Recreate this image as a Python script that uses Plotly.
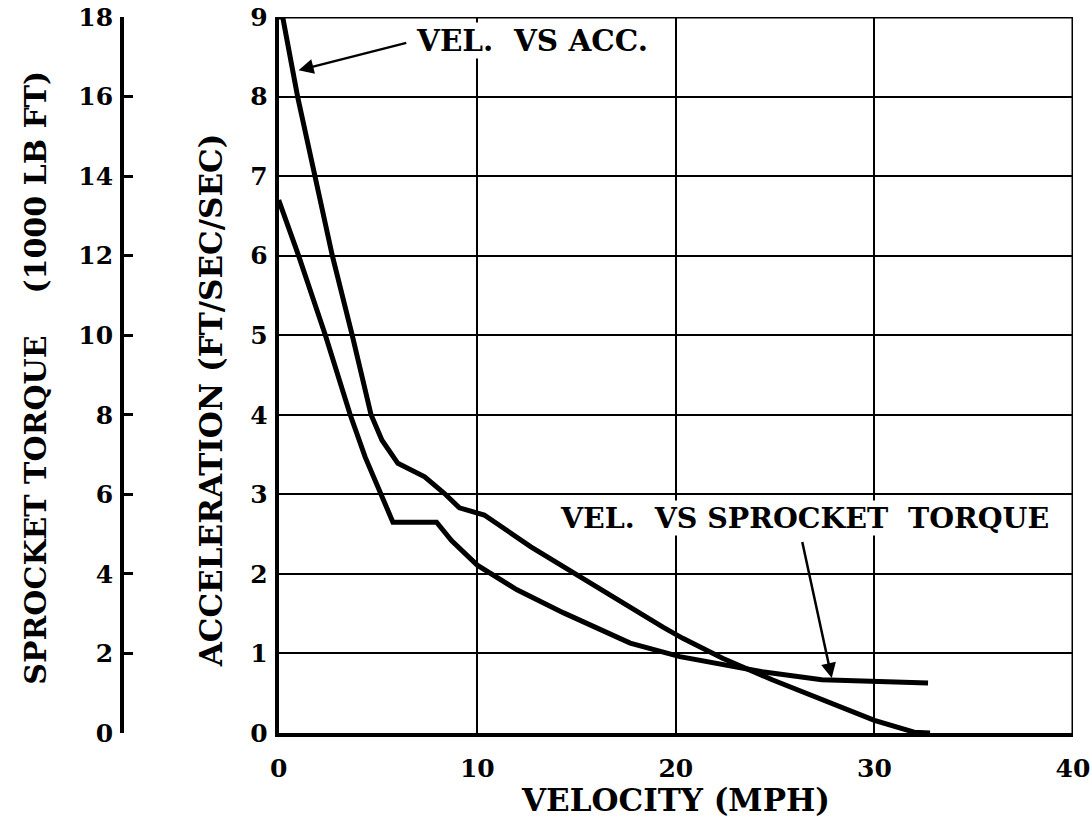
import plotly.graph_objects as go

# VEL. VS ACC. (acceleration, ft/sec/sec) vs velocity (mph)
acc_vel = [0.0, 0.2, 0.95, 1.85, 2.7, 3.7, 4.65, 5.2, 6.0, 7.35, 8.35, 9.1, 10.35,
           12.7, 14.85, 17.7, 19.35, 20.35, 22.35, 24.85, 27.7, 30.0, 32.0, 32.8]
acc_val = [9.0, 9.0, 8.0, 7.0, 6.0, 5.0, 4.0, 3.68, 3.39, 3.22, 3.01, 2.83, 2.74,
           2.34, 2.01, 1.58, 1.33, 1.19, 0.94, 0.67, 0.38, 0.16, 0.01, 0.0]

# VEL. VS SPROCKET TORQUE (1000 lb ft) vs velocity (mph)
trq_vel = [0.0, 1.0, 2.35, 3.6, 4.35, 5.2, 5.75, 7.95, 8.7, 10.0, 12.0,
           14.35, 17.7, 20.2, 21.85, 24.35, 27.35, 32.7]
trq_val = [13.4, 12.0, 10.0, 8.0, 6.94, 5.94, 5.3, 5.3, 4.84, 4.22, 3.6,
           3.02, 2.26, 1.92, 1.76, 1.54, 1.34, 1.26]

x_ticks = [0, 10, 20, 30, 40]
acc_ticks = list(range(0, 10))
trq_ticks = list(range(0, 19, 2))

FONT = "DejaVu Serif"
W, H = 1092, 823
L, R, T, B = 0, 19, 17, 90
PW = W - L - R
PH = H - T - B


def px(xp):
    return (xp - L) / PW


def py(yp):
    return (H - B - yp) / PH


tick_font = dict(family=FONT, size=25, weight="bold", color="black")

fig = go.Figure()
fig.add_trace(go.Scatter(x=acc_vel, y=acc_val, mode="lines",
                         line=dict(color="black", width=5), showlegend=False))
fig.add_trace(go.Scatter(x=trq_vel, y=trq_val, mode="lines", yaxis="y2",
                         line=dict(color="black", width=5), showlegend=False))

fig.update_layout(
    width=W, height=H,
    margin=dict(l=L, r=R, t=T, b=B),
    paper_bgcolor="white", plot_bgcolor="white",
    font=dict(family=FONT, color="black"),
    xaxis=dict(domain=[px(272), 1], range=[0, 40], tickvals=x_ticks,
               showgrid=True, gridcolor="black", gridwidth=2,
               showline=True, linecolor="black", linewidth=4, mirror=False,
               zeroline=False, ticks="", ticklabelstandoff=10,
               tickfont=tick_font),
    yaxis=dict(range=[0, 9], tickvals=acc_ticks,
               showgrid=True, gridcolor="black", gridwidth=2,
               showline=True, linecolor="black", linewidth=4,
               zeroline=False, ticks="", ticklabelstandoff=2,
               tickfont=tick_font),
    yaxis2=dict(range=[0, 18], tickvals=trq_ticks, overlaying="y", anchor="free",
                side="left", position=px(114), showgrid=False, zeroline=False,
                showline=True, linecolor="black", linewidth=4,
                ticks="inside", ticklen=9, tickwidth=3, tickcolor="black",
                ticklabelstandoff=2, tickfont=tick_font),
)

# plot frame top/right (thinner lines)
fig.add_shape(type="line", xref="x", yref="y", x0=0, x1=40, y0=9, y1=9,
              line=dict(color="black", width=3))
fig.add_shape(type="line", xref="x", yref="y", x0=40, x1=40, y0=0, y1=9,
              line=dict(color="black", width=3))

fig.add_annotation(x=6.85, y=8.71, xref="x", yref="y", text="VEL.  VS ACC.",
                   showarrow=False, xanchor="left", yanchor="middle",
                   bgcolor="white", borderpad=0,
                   font=dict(family=FONT, size=29.5, color="black", weight="bold"))
fig.add_annotation(x=14.1, y=2.70, xref="x", yref="y",
                   text="VEL.  VS SPROCKET  TORQUE",
                   showarrow=False, xanchor="left", yanchor="middle",
                   bgcolor="white", borderpad=0,
                   font=dict(family=FONT, size=28.5, color="black", weight="bold"))
# arrows
fig.add_annotation(x=1.0, y=8.33, ax=6.5, ay=8.68, xref="x", yref="y",
                   axref="x", ayref="y", text="", showarrow=True,
                   arrowhead=2, arrowsize=1.2, arrowwidth=2.5, arrowcolor="black")
fig.add_annotation(x=27.85, y=0.69, ax=26.35, ay=2.42, xref="x", yref="y",
                   axref="x", ayref="y", text="", showarrow=True,
                   arrowhead=2, arrowsize=1.2, arrowwidth=2.5, arrowcolor="black")

fig.add_annotation(x=px(672), y=py(800), xref="paper", yref="paper",
                   text="VELOCITY (MPH)", showarrow=False,
                   font=dict(family=FONT, size=31, color="black", weight="bold"),
                   xanchor="center", yanchor="middle")
fig.add_annotation(x=px(204), y=py(400), xref="paper", yref="paper",
                   text="ACCELERATION (FT/SEC/SEC)", showarrow=False,
                   font=dict(family=FONT, size=31, color="black", weight="bold"),
                   textangle=-90, xanchor="center", yanchor="middle")
fig.add_annotation(x=px(26), y=py(378), xref="paper", yref="paper",
                   text="SPROCKET TORQUE    (1000 LB FT)", showarrow=False,
                   font=dict(family=FONT, size=30, color="black", weight="bold"),
                   textangle=-90, xanchor="center", yanchor="middle")

fig.write_html("out.html", config={"displayModeBar": False},
               post_script="document.body.style.margin='0px';")
